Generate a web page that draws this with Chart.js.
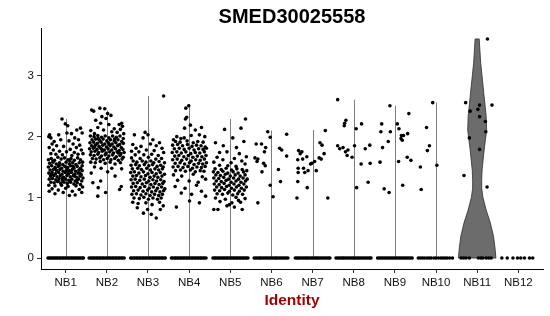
<!DOCTYPE html>
<html>
<head>
<meta charset="utf-8">
<script src="https://cdn.jsdelivr.net/npm/chart.js@4.4.1/dist/chart.umd.min.js"></script>
<style>
  html, body { margin: 0; padding: 0; background: #fff; }
  canvas { display: block; }
</style>
</head>
<body>
<canvas id="vln" width="550" height="316"></canvas>
<script>
// cluster names and plot labels
const groups = ['NB1', 'NB2', 'NB3', 'NB4', 'NB5', 'NB6', 'NB7', 'NB8', 'NB9', 'NB10', 'NB11', 'NB12'];
const title = 'SMED30025558';
const xTitle = 'Identity';
const yTicks = [0, 1, 2, 3];

// top of each (thin) violin = max expression per cluster
const violinTop = [2.29, 2.43, 2.67, 2.54, 2.29, 2.10, 2.11, 2.61, 2.51, 2.56, 3.61, 0];

// NB11 violin profile: expression level -> half width (in cluster units)
const nb11Level = [0, 0.13, 0.35, 0.58, 0.79, 1.00, 1.15, 1.30, 1.45, 1.78, 2.11, 2.33, 2.66, 3.22, 3.61];
const nb11Half = [0.455, 0.44, 0.40, 0.32, 0.22, 0.14, 0.11, 0.11, 0.12, 0.17, 0.23, 0.22, 0.17, 0.085, 0.05];

// cells with zero expression: horizontal jitter only
const zeroJitter = [
  [-0.43,-0.40,-0.36,-0.33,-0.29,-0.26,-0.22,-0.19,-0.15,-0.12,-0.08,-0.05,-0.01,0.02,0.06,0.09,0.13,0.16,0.20,0.23,0.27,0.30,0.34,0.37,0.41,0.43],
  [-0.43,-0.39,-0.36,-0.32,-0.29,-0.25,-0.22,-0.18,-0.15,-0.11,-0.08,-0.04,0.00,0.03,0.07,0.10,0.14,0.17,0.21,0.24,0.28,0.31,0.35,0.38,0.42],
  [-0.42,-0.39,-0.35,-0.32,-0.28,-0.25,-0.21,-0.18,-0.14,-0.11,-0.07,-0.04,0.00,0.04,0.07,0.11,0.14,0.18,0.21,0.25,0.28,0.32,0.35,0.39,0.42],
  [-0.43,-0.40,-0.36,-0.33,-0.29,-0.26,-0.22,-0.19,-0.15,-0.12,-0.08,-0.05,-0.01,0.02,0.06,0.09,0.13,0.16,0.20,0.23,0.27,0.30,0.34,0.37,0.41],
  [-0.42,-0.38,-0.35,-0.31,-0.28,-0.24,-0.21,-0.17,-0.14,-0.10,-0.07,-0.03,0.01,0.04,0.08,0.11,0.15,0.18,0.22,0.25,0.29,0.32,0.36,0.39,0.43],
  [-0.42,-0.38,-0.34,-0.30,-0.27,-0.23,-0.19,-0.15,-0.11,-0.07,-0.03,0.01,0.05,0.09,0.12,0.16,0.20,0.24,0.28,0.32,0.36,0.40],
  [-0.42,-0.38,-0.35,-0.31,-0.27,-0.23,-0.19,-0.15,-0.12,-0.08,-0.04,0.00,0.04,0.08,0.11,0.15,0.19,0.23,0.27,0.31,0.35,0.39,0.42],
  [-0.43,-0.39,-0.35,-0.31,-0.27,-0.24,-0.20,-0.16,-0.12,-0.08,-0.04,0.00,0.03,0.07,0.11,0.15,0.19,0.23,0.27,0.31,0.35,0.39,0.42],
  [-0.42,-0.38,-0.34,-0.30,-0.26,-0.22,-0.18,-0.14,-0.10,-0.06,-0.02,0.02,0.06,0.10,0.14,0.18,0.22,0.26,0.30,0.34,0.38,0.42],
  [-0.43,-0.38,-0.33,-0.28,-0.22,-0.17,-0.12,-0.05,0.00,0.06,0.12,0.17,0.22,0.27,0.33,0.40],
  [-0.39,-0.33,-0.27,-0.19,0.03,0.09,0.14,0.22,0.28,0.34],
  [-0.40,-0.27,-0.13,-0.02,0.06,0.15,0.27,0.35]
];

// cells with non-zero expression: [jitter, value]
const nb1 = [
  [-0.09,2.29],[-0.39,2.03],[-0.36,1.98],[-0.17,2.03],[-0.01,2.21],[0.05,2.18],[0.27,2.11],[0.36,2.14],[0.14,2.05],[0.22,1.98],
  [0.31,1.95],[0.40,2.06],[-0.28,1.92],[-0.12,1.95],[0.08,1.93],[-0.33,1.88],[-0.22,1.85],[0.18,1.88],[0.34,1.86],[-0.40,1.82],
  [-0.05,1.84],[0.26,1.82],[-0.30,1.78],[0.11,1.79],[0.38,1.78],[-0.15,1.76],[0.02,1.75],[0.21,1.74],[-0.36,1.72],[-0.24,1.71],
  [0.30,1.71],[0.42,1.72],[-0.08,1.70],[0.15,1.69],[-0.41,2.00],[0.03,2.06],
  [-0.42,1.62],[-0.35,1.64],[-0.27,1.61],[-0.19,1.66],[-0.11,1.63],[-0.03,1.65],[0.06,1.62],[0.13,1.64],[0.21,1.61],[0.29,1.65],[0.36,1.62],[0.41,1.58],
  [-0.39,1.56],[-0.31,1.58],[-0.23,1.55],[-0.15,1.57],[-0.07,1.54],[0.01,1.58],[0.09,1.55],[0.17,1.57],[0.25,1.54],[0.33,1.57],[0.40,1.52],
  [-0.42,1.50],[-0.34,1.52],[-0.26,1.49],[-0.18,1.51],[-0.10,1.48],[-0.02,1.51],[0.05,1.49],[0.12,1.52],[0.20,1.48],[0.28,1.51],[0.36,1.48],
  [-0.38,1.45],[-0.30,1.46],[-0.22,1.44],[-0.14,1.46],[-0.06,1.43],[0.02,1.46],[0.09,1.44],[0.16,1.46],[0.24,1.43],[0.32,1.45],[0.40,1.44],
  [-0.41,1.40],[-0.33,1.41],[-0.25,1.39],[-0.17,1.41],[-0.09,1.38],[-0.01,1.41],[0.07,1.39],[0.14,1.41],[0.22,1.38],[0.30,1.40],[0.38,1.37],
  [-0.37,1.35],[-0.29,1.36],[-0.21,1.34],[-0.13,1.36],[-0.05,1.33],[0.03,1.36],[0.11,1.34],[0.19,1.36],[0.27,1.33],[0.35,1.35],[0.42,1.32],
  [-0.40,1.30],[-0.32,1.31],[-0.24,1.29],[-0.16,1.31],[-0.08,1.28],[0.00,1.30],[0.08,1.28],[0.15,1.30],[0.23,1.27],[0.31,1.30],[0.39,1.27],
  [-0.36,1.25],[-0.28,1.24],[-0.20,1.26],[-0.12,1.23],[-0.04,1.25],[0.04,1.23],[0.12,1.25],[0.20,1.22],[0.28,1.24],[0.36,1.21],
  [-0.41,1.20],[-0.26,1.19],[-0.10,1.20],[0.06,1.18],[0.25,1.19],[0.41,1.17],
  [-0.31,1.60],[-0.15,1.53],[0.03,1.43],[0.18,1.51],[0.34,1.40],[-0.25,1.47],[-0.08,1.32],[0.10,1.60],[0.27,1.28],[-0.35,1.38],[0.21,1.35],[-0.18,1.27],
  [-0.33,1.14],[-0.18,1.12],[0.00,1.15],[0.16,1.10],[0.33,1.13],[-0.26,1.06],[-0.06,1.08],[0.23,1.04],[0.39,1.08],[-0.40,1.10],[0.09,1.03]
];
const nb2 = [
  [-0.37,2.44],[-0.32,2.42],[-0.17,2.47],[-0.05,2.46],[0.02,2.38],[-0.12,2.33],[-0.02,2.30],[0.10,2.35],[0.05,2.20],[-0.27,2.27],
  [0.30,2.20],[0.38,2.17],[0.33,2.12],[-0.22,2.15],[-0.39,2.10],[0.18,2.13],[-0.08,2.11],[0.25,2.07],[0.41,2.05],[-0.30,2.05],
  [0.12,2.08],[-0.15,2.22],[0.36,2.22],
  [-0.40,2.01],[-0.31,2.00],[-0.22,2.02],[-0.13,1.99],[-0.04,2.01],[0.05,1.98],[0.14,2.01],[0.23,1.99],[0.32,2.01],[0.40,1.97],
  [-0.36,1.95],[-0.27,1.96],[-0.18,1.94],[-0.09,1.96],[0.00,1.93],[0.09,1.95],[0.18,1.93],[0.27,1.95],[0.36,1.92],
  [-0.41,1.90],[-0.32,1.91],[-0.23,1.89],[-0.14,1.91],[-0.05,1.88],[0.04,1.90],[0.13,1.88],[0.22,1.90],[0.31,1.87],[0.40,1.89],
  [-0.37,1.85],[-0.28,1.86],[-0.19,1.84],[-0.10,1.86],[-0.01,1.83],[0.08,1.85],[0.17,1.83],[0.26,1.85],[0.35,1.82],
  [-0.42,1.80],[-0.33,1.81],[-0.24,1.79],[-0.15,1.81],[-0.06,1.78],[0.03,1.80],[0.12,1.78],[0.21,1.80],[0.30,1.77],[0.39,1.79],
  [-0.38,1.75],[-0.29,1.76],[-0.20,1.74],[-0.11,1.76],[-0.02,1.73],[0.07,1.75],[0.16,1.73],[0.25,1.75],[0.34,1.72],[0.42,1.74],
  [-0.40,1.70],[-0.31,1.69],[-0.22,1.71],[-0.13,1.68],[-0.04,1.70],[0.05,1.68],[0.14,1.70],[0.23,1.67],[0.32,1.69],[0.40,1.66],
  [-0.35,1.64],[-0.26,1.63],[-0.17,1.65],[-0.08,1.62],[0.01,1.64],[0.10,1.62],[0.19,1.64],[0.28,1.61],[0.37,1.63],
  [-0.39,1.58],[-0.28,1.57],[-0.16,1.59],[-0.04,1.56],[0.08,1.58],[0.20,1.55],[0.33,1.57],
  [-0.21,1.97],[0.06,1.87],[-0.12,1.79],[0.19,1.96],[-0.30,1.83],[0.28,1.73],
  [-0.38,1.40],[-0.34,1.24],[-0.21,1.16],[-0.22,1.02],[-0.03,1.08],[-0.15,1.27],[0.35,1.18],[0.31,1.13],[0.12,1.48],[0.36,1.47],
  [-0.14,1.48],[0.02,1.42],[-0.30,1.50],[0.20,1.35]
];
const nb3 = [
  [0.38,2.67],
  [-0.33,2.03],[-0.07,2.07],[0.00,2.03],[-0.12,1.98],[0.12,1.95],[0.20,1.85],[0.34,1.81],[-0.37,1.87],[-0.29,1.81],[-0.17,1.84],
  [0.06,1.88],[0.28,1.90],[-0.40,1.76],[-0.22,1.75],[-0.04,1.78],[0.15,1.77],[0.38,1.74],[-0.31,1.70],[-0.10,1.70],[0.09,1.71],
  [0.25,1.69],[-0.40,1.65],[-0.19,1.64],[0.01,1.66],[0.19,1.63],[0.33,1.64],
  [-0.36,1.60],[-0.27,1.58],[-0.14,1.60],[-0.05,1.58],[0.07,1.60],[0.14,1.57],[0.27,1.59],[0.40,1.57],
  [-0.41,1.53],[-0.30,1.54],[-0.21,1.52],[-0.09,1.54],[0.02,1.52],[0.11,1.54],[0.22,1.51],[0.31,1.53],[0.37,1.50],
  [-0.38,1.47],[-0.25,1.48],[-0.16,1.46],[-0.03,1.48],[0.06,1.45],[0.17,1.47],[0.26,1.45],[0.35,1.47],
  [-0.42,1.41],[-0.33,1.42],[-0.22,1.40],[-0.11,1.42],[0.00,1.39],[0.10,1.41],[0.20,1.39],[0.30,1.41],[0.40,1.38],
  [-0.37,1.35],[-0.28,1.36],[-0.17,1.34],[-0.06,1.36],[0.05,1.33],[0.15,1.35],[0.24,1.33],[0.34,1.35],
  [-0.41,1.29],[-0.31,1.30],[-0.20,1.28],[-0.09,1.30],[0.02,1.27],[0.12,1.29],[0.21,1.27],[0.31,1.29],[0.39,1.26],
  [-0.36,1.23],[-0.26,1.24],[-0.14,1.22],[-0.04,1.24],[0.07,1.21],[0.17,1.23],[0.27,1.21],[0.36,1.23],
  [-0.40,1.17],[-0.30,1.18],[-0.19,1.16],[-0.08,1.18],[0.03,1.15],[0.13,1.17],[0.23,1.15],[0.33,1.17],[0.41,1.14],
  [-0.35,1.11],[-0.24,1.12],[-0.12,1.10],[-0.01,1.12],[0.09,1.09],[0.19,1.11],[0.29,1.09],[0.38,1.11],
  [-0.39,1.05],[-0.28,1.06],[-0.17,1.04],[-0.05,1.06],[0.05,1.03],[0.16,1.05],[0.26,1.03],[0.35,1.05],
  [-0.34,0.99],[-0.21,0.98],[-0.10,1.00],[0.01,0.97],[0.12,0.99],[0.23,0.97],[0.32,0.99],
  [-0.37,0.92],[-0.24,0.90],[-0.05,0.91],[0.10,0.88],[0.28,0.92],[-0.26,0.83],[-0.11,0.74],[0.20,0.66],[0.08,0.72],[0.30,0.80],
  [-0.01,0.80],[0.37,0.86]
];
const nb4 = [
  [-0.01,2.51],[-0.08,2.47],[-0.06,2.32],[-0.09,2.29],[0.03,2.19],[-0.11,2.14],[0.15,2.11],[0.30,2.15],[-0.30,2.00],[-0.20,1.97],
  [0.25,2.03],[0.38,2.00],[-0.38,1.95],[0.05,2.02],[-0.12,1.98],
  [-0.33,1.92],[-0.22,1.91],[-0.05,1.93],[0.10,1.90],[0.21,1.92],[0.34,1.91],
  [-0.40,1.86],[-0.28,1.87],[-0.16,1.85],[-0.04,1.87],[0.07,1.84],[0.18,1.86],[0.29,1.85],[0.39,1.83],
  [-0.36,1.80],[-0.24,1.81],[-0.12,1.79],[0.00,1.81],[0.12,1.78],[0.23,1.80],[0.34,1.79],[0.42,1.81],
  [-0.41,1.74],[-0.30,1.75],[-0.19,1.73],[-0.08,1.75],[0.04,1.72],[0.15,1.74],[0.26,1.73],[0.37,1.75],
  [-0.35,1.68],[-0.25,1.69],[-0.13,1.67],[-0.02,1.69],[0.09,1.66],[0.20,1.68],[0.31,1.67],[0.41,1.69],
  [-0.40,1.62],[-0.29,1.63],[-0.18,1.61],[-0.06,1.63],[0.05,1.60],[0.16,1.62],[0.27,1.61],[0.37,1.63],
  [-0.34,1.56],[-0.22,1.57],[-0.11,1.55],[0.01,1.57],[0.12,1.54],[0.23,1.56],[0.33,1.55],[0.42,1.57],
  [-0.39,1.50],[-0.27,1.51],[-0.15,1.49],[-0.03,1.51],[0.08,1.48],[0.19,1.50],[0.30,1.49],[0.39,1.51],
  [-0.33,1.44],[-0.21,1.45],[-0.09,1.43],[0.03,1.45],[0.15,1.42],[0.27,1.44],[0.36,1.43],
  [-0.38,1.37],[-0.18,1.35],[0.10,1.38],[0.32,1.34],[-0.28,1.28],[0.00,1.27],[0.22,1.25],[0.40,1.30],[-0.34,1.18],[-0.10,1.15],
  [0.18,1.20],[-0.19,1.07],[0.06,1.05],[0.30,1.10],[-0.31,0.84],[0.01,0.94],[0.25,0.91],[0.40,1.02]
];
const nb5 = [
  [0.37,2.29],[0.26,2.14],[-0.14,2.12],[0.06,1.98],[0.33,1.92],[-0.17,1.85],[-0.36,1.90],[0.15,1.82],[-0.26,1.74],[0.39,1.67],
  [-0.08,1.75],[0.22,1.72],[-0.32,1.66],[0.10,1.64],[-0.18,1.62],[0.28,1.60],[-0.40,1.58],[0.02,1.57],[0.36,1.55],[-0.26,1.53],
  [0.14,1.51],[-0.06,1.52],
  [-0.37,1.47],[-0.22,1.46],[-0.10,1.48],[0.03,1.45],[0.16,1.47],[0.29,1.46],[0.40,1.44],
  [-0.41,1.42],[-0.30,1.41],[-0.18,1.43],[-0.06,1.40],[0.07,1.42],[0.19,1.40],[0.32,1.42],
  [-0.35,1.37],[-0.24,1.36],[-0.12,1.38],[0.00,1.35],[0.12,1.37],[0.24,1.35],[0.36,1.37],
  [-0.40,1.32],[-0.28,1.31],[-0.16,1.33],[-0.04,1.30],[0.08,1.32],[0.20,1.30],[0.31,1.32],[0.41,1.30],
  [-0.34,1.27],[-0.22,1.26],[-0.10,1.28],[0.02,1.25],[0.14,1.27],[0.26,1.25],[0.37,1.27],
  [-0.39,1.22],[-0.27,1.21],[-0.15,1.23],[-0.03,1.20],[0.09,1.22],[0.21,1.20],[0.33,1.22],
  [-0.33,1.17],[-0.21,1.16],[-0.09,1.18],[0.03,1.15],[0.15,1.17],[0.27,1.15],[0.39,1.17],
  [-0.38,1.12],[-0.26,1.11],[-0.14,1.13],[-0.02,1.10],[0.10,1.12],[0.22,1.10],[0.34,1.12],
  [-0.32,1.06],[-0.19,1.05],[-0.06,1.07],[0.06,1.04],[0.18,1.06],[0.30,1.05],
  [-0.36,0.99],[-0.12,0.97],[0.14,1.00],[0.36,0.98],[-0.25,0.93],[0.04,0.91],[0.25,0.92],[-0.08,0.86],[0.10,0.84],
  [-0.40,0.80],[-0.30,0.80],[0.29,0.80],[-0.02,0.88],[0.20,0.95]
];
const nb6 = [
  [-0.09,2.08],[0.37,2.04],[-0.03,1.99],[-0.37,1.88],[-0.24,1.88],[-0.14,1.82],[-0.17,1.75],[0.20,1.81],[0.25,1.78],[0.37,1.68],
  [-0.40,1.65],[-0.33,1.63],[-0.35,1.59],[-0.19,1.56],[-0.15,1.52],[-0.23,1.42],[0.17,1.46],[-0.03,1.20],[0.22,1.26],[0.04,1.01],
  [-0.33,0.91]
];
const nb7 = [
  [0.31,2.10],[0.18,1.90],[0.23,1.86],[0.28,1.72],[0.16,1.65],[0.21,1.63],[0.05,1.59],[-0.02,1.56],[-0.05,1.55],[0.09,1.44],
  [-0.11,1.44],[-0.26,1.75],[-0.34,1.77],[-0.30,1.72],[-0.36,1.62],[-0.24,1.63],[-0.14,1.67],[-0.35,1.48],[-0.22,1.48],[-0.19,1.41],
  [-0.35,1.41],[-0.36,1.26],[-0.13,1.16],[-0.38,0.99],[0.37,0.99]
];
const nb8 = [
  [-0.39,2.61],[-0.19,2.27],[-0.22,2.22],[-0.23,2.18],[0.19,2.21],[0.06,2.13],[-0.39,1.85],[-0.34,1.80],[-0.26,1.82],[-0.20,1.75],
  [-0.14,1.78],[-0.16,1.69],[-0.04,1.66],[0.02,1.85],[0.28,1.80],[0.39,1.86],[0.18,1.55],[0.40,1.56],[0.35,1.25],[0.07,1.16]
];
const nb9 = [
  [-0.12,2.51],[0.34,2.38],[-0.32,2.21],[0.06,2.21],[0.10,2.13],[-0.34,2.08],[-0.11,2.08],[0.16,2.02],[0.21,2.02],[0.31,2.05],
  [0.15,1.97],[0.18,1.94],[-0.16,1.92],[-0.30,1.82],[0.30,1.66],[0.39,1.61],[0.09,1.59],[-0.36,1.58],[0.19,1.20],[-0.26,1.14],
  [-0.14,1.08]
];
const nb10 = [
  [-0.08,2.56],[-0.23,2.15],[-0.16,1.85],[-0.21,1.77],[0.02,1.53],[-0.38,1.50],[-0.36,1.13]
];
const nb11 = [
  [0.25,3.61],[-0.28,2.56],[-0.17,2.42],[0.02,2.45],[0.06,2.52],[0.36,2.52],[0.06,2.33],[0.20,2.25],[0.21,2.08],[-0.19,1.98],
  [0.06,1.79],[-0.32,1.36],[0.24,1.17]
];
const nb12 = [];
const nonZero = [nb1, nb2, nb3, nb4, nb5, nb6, nb7, nb8, nb9, nb10, nb11, nb12];

const points = [];
groups.forEach((g, i) => {
  zeroJitter[i].forEach(dx => points.push({ x: i + 1 + dx, y: 0 }));
  nonZero[i].forEach(([dx, v]) => points.push({ x: i + 1 + dx, y: v }));
});

const FONT = '"Liberation Sans", Arial, Helvetica, sans-serif';

const violins = {
  id: 'violins',
  beforeDatasetsDraw(chart) {
    const { ctx, scales: { x, y } } = chart;
    ctx.save();
    violinTop.forEach((top, i) => {
      if (top <= 0 || i === 10) return;
      const px = x.getPixelForValue(i + 1);
      ctx.beginPath();
      ctx.strokeStyle = '#7d7d7d';
      ctx.lineWidth = 1;
      ctx.moveTo(Math.round(px) + 0.5, y.getPixelForValue(0));
      ctx.lineTo(Math.round(px) + 0.5, y.getPixelForValue(top));
      ctx.stroke();
    });
    // NB11 full violin
    const c = 11;
    ctx.beginPath();
    nb11Level.forEach((lv, k) => {
      const px = x.getPixelForValue(c + nb11Half[k]);
      const py = y.getPixelForValue(lv);
      if (k === 0) ctx.moveTo(px, py); else ctx.lineTo(px, py);
    });
    for (let k = nb11Level.length - 1; k >= 0; k--) {
      ctx.lineTo(x.getPixelForValue(c - nb11Half[k]), y.getPixelForValue(nb11Level[k]));
    }
    ctx.closePath();
    ctx.fillStyle = '#6c6c6c';
    ctx.fill();
    ctx.strokeStyle = '#2e2e2e';
    ctx.lineWidth = 0.8;
    ctx.stroke();
    ctx.restore();
  }
};

const labels = {
  id: 'labels',
  afterDraw(chart) {
    const { ctx, chartArea } = chart;
    const cx = (chartArea.left + chartArea.right) / 2;
    ctx.save();
    ctx.textAlign = 'center';
    ctx.textBaseline = 'alphabetic';
    ctx.fillStyle = '#000';
    ctx.font = 'bold 20px ' + FONT;
    ctx.fillText(title, cx, 22.5);
    ctx.fillStyle = '#9e0000';
    ctx.font = 'bold 15.5px ' + FONT;
    ctx.fillText(xTitle, cx, 304.5);
    ctx.restore();
  }
};

new Chart(document.getElementById('vln'), {
  type: 'scatter',
  data: {
    datasets: [{
      data: points,
      pointRadius: 1.8,
      pointBorderWidth: 0,
      backgroundColor: '#000',
      borderColor: '#000'
    }]
  },
  options: {
    responsive: false,
    animation: false,
    devicePixelRatio: 1,
    layout: { padding: { top: 28, right: 7, left: 0, bottom: 0 } },
    plugins: { legend: { display: false }, tooltip: { enabled: false } },
    scales: {
      x: {
        type: 'linear',
        min: 0.4,
        max: 12.6,
        afterBuildTicks: s => { s.ticks = groups.map((g, i) => ({ value: i + 1 })); },
        afterFit: s => { s.height = 47; },
        ticks: {
          autoSkip: false,
          maxRotation: 0,
          padding: 3,
          color: '#111',
          font: { family: FONT, size: 11.5 },
          callback: v => groups[v - 1]
        },
        grid: { drawOnChartArea: false, drawTicks: true, tickLength: 4, color: '#333' },
        border: { display: true, color: '#000', width: 1 }
      },
      y: {
        min: -0.18,
        max: 3.79,
        afterBuildTicks: s => { s.ticks = yTicks.map(v => ({ value: v })); },
        afterFit: s => { s.width = 41; },
        ticks: {
          padding: 3,
          color: '#111',
          font: { family: FONT, size: 11.5 }
        },
        grid: { drawOnChartArea: false, drawTicks: true, tickLength: 4, color: '#333' },
        border: { display: true, color: '#000', width: 1 }
      }
    }
  },
  plugins: [violins, labels]
});
</script>
</body>
</html>
